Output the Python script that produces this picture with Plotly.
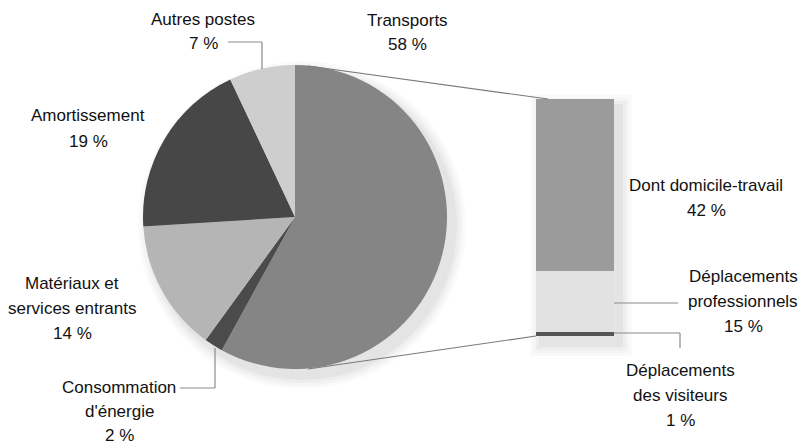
import plotly.graph_objects as go

W, H = 802, 446

# ---- data ----
pie_labels = ["Transports", "Consommation d'énergie", "Matériaux et services entrants",
              "Amortissement", "Autres postes"]
pie_values = [58, 2, 14, 19, 7]
pie_colors = ["#858585", "#4b4b4b", "#b5b5b5", "#474747", "#cecece"]

bar_labels = ["Déplacements des visiteurs", "Déplacements professionnels", "Dont domicile-travail"]
bar_values = [1, 15, 42]
bar_colors = ["#555555", "#e2e2e2", "#9b9b9b"]

# ---- geometry (pixels) ----
cx, cy, R = 295, 217, 152
bx0, bx1, by_top, by_bot = 536, 614, 99, 336


def px(x, y):
    return x / W, 1 - y / H


FONT = dict(family="Liberation Sans, Arial, sans-serif", size=17, color="#111111")
LINE = "#8a8a8a"

fig = go.Figure()

# soft shadow for pie (offset to lower right)
for d, op in [(12, 0.018), (9, 0.022), (6, 0.028), (3, 0.035)]:
    x0, y0 = px(cx - R - d + 7, cy - R - d + 8)
    x1, y1 = px(cx + R + d + 7, cy + R + d + 8)
    fig.add_shape(type="circle", xref="paper", yref="paper", x0=x0, x1=x1, y0=y1, y1=y0,
                  fillcolor="black", opacity=op, line_width=0, layer="below")
# soft shadow for bar
for d, op in [(12, 0.018), (9, 0.022), (6, 0.028), (3, 0.035)]:
    x0, y0 = px(bx0 - d + 6, by_top - d + 8)
    x1, y1 = px(bx1 + d + 6, by_bot + d + 8)
    fig.add_shape(type="rect", xref="paper", yref="paper", x0=x0, x1=x1, y0=y1, y1=y0,
                  fillcolor="black", opacity=op, line_width=0, layer="below")

dx0, dy1 = px(cx - R, cy - R)
dx1, dy0 = px(cx + R, cy + R)
fig.add_trace(go.Pie(labels=pie_labels, values=pie_values, sort=False, direction="clockwise",
                     rotation=0, marker=dict(colors=pie_colors, line=dict(width=0)),
                     textinfo="none", hoverinfo="label+percent", showlegend=False,
                     domain=dict(x=[dx0, dx1], y=[dy0, dy1])))

for lab, val, col in zip(bar_labels, bar_values, bar_colors):
    fig.add_trace(go.Bar(x=[0.5], y=[val], width=1, name=lab, marker=dict(color=col, line_width=0),
                         showlegend=False, xaxis="x", yaxis="y"))

fig.update_layout(
    width=W, height=H, margin=dict(l=0, r=0, t=0, b=0),
    paper_bgcolor="white", plot_bgcolor="rgba(0,0,0,0)",
    barmode="stack", bargap=0,
    xaxis=dict(domain=[bx0 / W, bx1 / W], range=[0, 1], visible=False, fixedrange=True),
    yaxis=dict(domain=[1 - by_bot / H, 1 - by_top / H], range=[0, sum(bar_values)],
               visible=False, fixedrange=True),
)


def seg(x0, y0, x1, y1, color=LINE, w=1.2):
    a, b = px(x0, y0)
    c, d = px(x1, y1)
    fig.add_shape(type="line", xref="paper", yref="paper", x0=a, y0=b, x1=c, y1=d,
                  line=dict(color=color, width=w))


# connector lines pie -> bar
seg(308, 66, 548, 99, "#7a7a7a")
seg(308, 369, 536, 336, "#7a7a7a")

# leader lines
seg(228, 42, 262, 42); seg(262, 42, 262, 69)
seg(180, 388, 215, 388); seg(215, 388, 215, 348)
seg(614, 303, 678, 303)
seg(614, 333, 680, 333); seg(680, 333, 680, 348)


def label(lines, x, y, step=25):
    for i, t in enumerate(lines):
        a, b = px(x, y + i * step)
        fig.add_annotation(text=t, x=a, y=b, xref="paper", yref="paper", showarrow=False,
                           xanchor="center", yanchor="middle", font=FONT)


label(["Autres postes", f"{pie_values[4]} %"], 203, 19)
label(["Transports", f"{pie_values[0]} %"], 408, 20)
label(["Amortissement", f"{pie_values[3]} %"], 88, 116)
label(["Matériaux et", "services entrants", f"{pie_values[2]} %"], 72, 283)
label(["Consommation", "d'énergie", f"{pie_values[1]} %"], 119, 387, step=24)
label(["Dont domicile-travail", f"{bar_values[2]} %"], 706, 185)
label(["Déplacements", "professionnels", f"{bar_values[1]} %"], 743, 276)
label(["Déplacements", "des visiteurs", f"{bar_values[0]} %"], 680, 370)

fig.write_html("out.html", config={"displayModeBar": False},
               post_script="document.body.style.margin='0';")
